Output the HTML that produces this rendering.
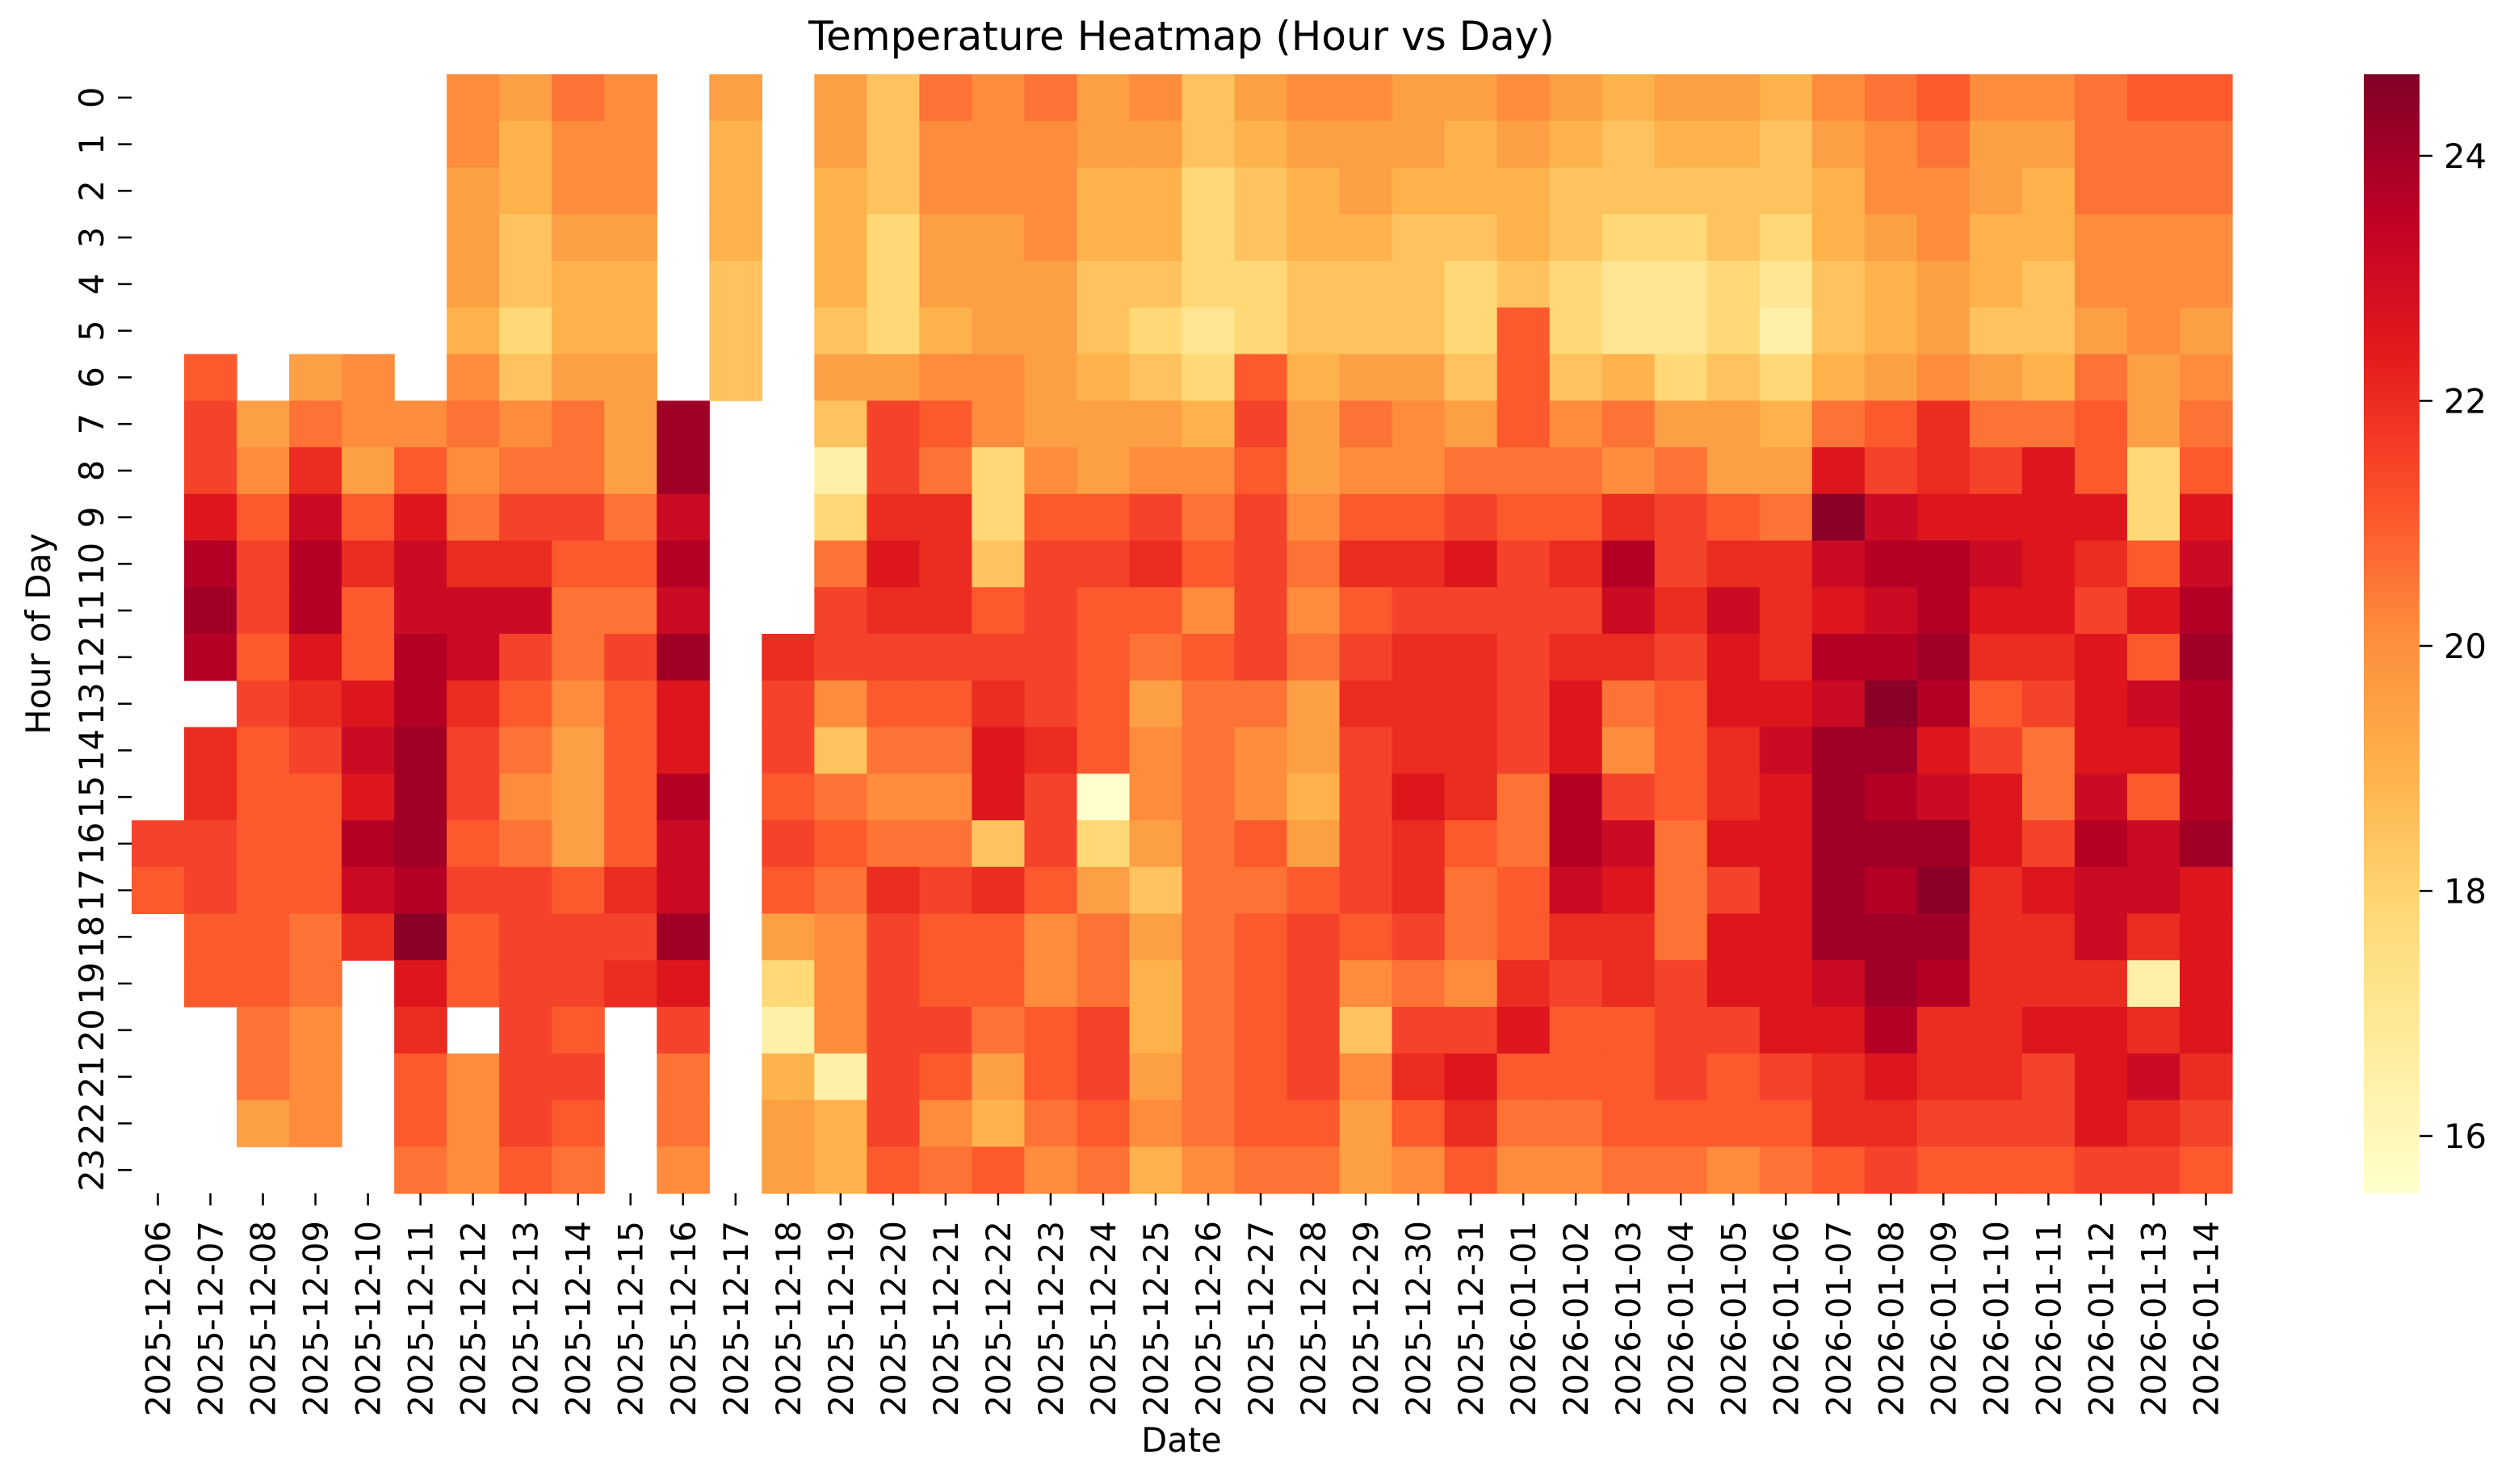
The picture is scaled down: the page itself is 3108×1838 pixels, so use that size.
<!DOCTYPE html>
<html><head><meta charset="utf-8"><style>
html,body{margin:0;padding:0;background:#fff;}
svg{display:block;font-family:"DejaVu Sans","Liberation Sans",sans-serif;}
</style></head><body>
<svg id="s" width="3108" height="1838" viewBox="0 0 3108 1838" xmlns="http://www.w3.org/2000/svg">
<defs><linearGradient id="cb" x1="0" y1="0" x2="0" y2="1">
<stop offset="0" stop-color="#800026"/><stop offset="0.125" stop-color="#bd0026"/><stop offset="0.25" stop-color="#e31a1c"/><stop offset="0.375" stop-color="#fc4e2a"/><stop offset="0.5" stop-color="#fd8d3c"/><stop offset="0.625" stop-color="#feb24c"/><stop offset="0.75" stop-color="#fed976"/><stop offset="0.875" stop-color="#ffeda0"/><stop offset="1" stop-color="#ffffcc"/>
</linearGradient></defs>
<g id="cells"></g>
<text x="1463" y="62" font-size="50" text-anchor="middle">Temperature Heatmap (Hour vs Day)</text>
<g id="yt" font-size="41.7"></g>
<g id="xt" font-size="41.7"></g>
<text transform="translate(62,785) rotate(-90)" font-size="41.7" text-anchor="middle">Hour of Day</text>
<text x="1463" y="1798" font-size="41.7" text-anchor="middle">Date</text>
<rect x="2927" y="92" width="69" height="1386" fill="url(#cb)"/>
<g id="cbt" font-size="41.7"></g>
</svg>
<script>
var cols=["................ji......","......ijjlnon.kkjjii....",".......fgijjijiiiiiihhf.","......fhkmnnlkjiiihhggg.","......ggfikiilmlnmk.....",".......gilmmnnooonplkiih","ggfffeghghkmmkjjijii.ggg","feeddcdghjkmjihghjjjjjji","hggfeefhhjihhgfffijjijih","gggfeefffhihjiiiikjk....",".......oomnmollnmmoljhhg","feeeddd.................","............kjjijifcbeff","ffeeedfdbchjjgdhihgggbee","dddcccfjjklkjihghkjjjjji","hggffegihkkkjihghjiijigh","gggfffggccdijklldkiihfei","hgggffffgijjjjkjjiggiihg","ffeeddeffijiiiiacfhhjjih","gfeedcdfgjkihfggfdfeefge","ddcccCceghigihhhhhhhhhhg","feddccijijjjjhggihiiiiih","gfeeddeffghghffefijjjjih","gffeddfhgikijkjjjjigdgff","ffedddfggikjkkklkkjhjkig","feedccdfhjljkkkkihhgjlki","gfeediiihijjjjjhhiiklihg","feddccdghikjkllnnmkjiihg","eddcCCehgknmkhgjmlkkiiih","fedcCCcfhjjkjiiihhhjjjih","feddccdffikmllkkljlljiig","eddcCbcefhkkklmlllllljih","gfeeddehlpmlnmooooomlkki","hggfeefijmnmnpononoonlkj","ihggffgkklnnonlmoponkkji","gffeedfhjlmlkijllkkkkkji","gfeeddehllllkjhhjlkkljji","hhhggfhiilkjlllmnmmklllj","ihhgggffccilimlimmkbkmkj","ihhggfghilmnonnnollllkji"];
var pal={a:"#ffffcc",b:"#fff0a8",C:"#fee593",c:"#fed976",d:"#fec35e",e:"#feb24c",f:"#fd9f44",g:"#fd8c3c",h:"#fd7235",i:"#fc592d",j:"#f4432a",k:"#ea2c21",l:"#dd161d",m:"#ca0b23",n:"#b50026",o:"#a10026",p:"#8a0026"};
var NS="http://www.w3.org/2000/svg",X0=163,Y0=92,CW=2601/40,RH=1386/24;
var g=document.getElementById("cells");
function el(t,a,p){var e=document.createElementNS(NS,t);for(var k in a)e.setAttribute(k,a[k]);p.appendChild(e);return e;}
for(var c=0;c<40;c++)for(var r=0;r<24;r++){var ch=cols[c][r];if(ch==".")continue;
el("rect",{x:(X0+c*CW).toFixed(2),y:(Y0+r*RH).toFixed(2),width:(CW+0.6).toFixed(2),height:(RH+0.6).toFixed(2),fill:pal[ch]},g);}
var yt=document.getElementById("yt");
for(var r=0;r<24;r++){var y=Y0+(r+0.5)*RH;el("line",{x1:146,x2:163,y1:y,y2:y,stroke:"#000","stroke-width":2.5},yt);
var t=el("text",{transform:"translate(128,"+y.toFixed(1)+") rotate(-90)","text-anchor":"middle"},yt);t.textContent=r;}
var xt=document.getElementById("xt");var d0=Date.UTC(2025,11,6);
for(var c=0;c<40;c++){var x=X0+(c+0.5)*CW;el("line",{x1:x,x2:x,y1:1478,y2:1493,stroke:"#000","stroke-width":2.5},xt);
var d=new Date(d0+c*86400000);var s=d.getUTCFullYear()+"-"+("0"+(d.getUTCMonth()+1)).slice(-2)+"-"+("0"+d.getUTCDate()).slice(-2);
var t=el("text",{transform:"translate("+(x+15).toFixed(1)+",1512) rotate(-90)","text-anchor":"end"},xt);t.textContent=s;}
var cb=document.getElementById("cbt");
[16,18,20,22,24].forEach(function(v){var y=1407-(v-16)*151.75;el("line",{x1:2996,x2:3012,y1:y,y2:y,stroke:"#000","stroke-width":2.5},cb);
var t=el("text",{x:3026,y:(y+15).toFixed(1)},cb);t.textContent=v;});
</script>
</body></html>
